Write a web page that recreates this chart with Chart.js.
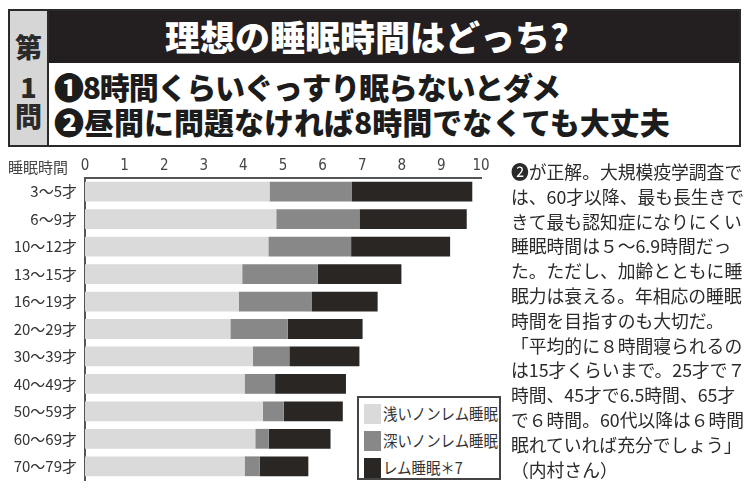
<!DOCTYPE html>
<html>
<head>
<meta charset="utf-8">
<script src="https://cdn.jsdelivr.net/npm/chart.js@4.4.1/dist/chart.umd.min.js"></script>
<style>
  html, body { margin: 0; padding: 0; background: #fff; }
  body { width: 750px; height: 500px; position: relative; overflow: hidden; font-family: "Noto Sans CJK JP", sans-serif; color: #222; }
  #chart-wrap { position: absolute; left: 0; top: 0; width: 750px; height: 500px; }
  #frame { position: absolute; left: 8px; top: 9px; width: 729px; height: 134px; border: 2px solid #2a2a2a; background: #fff; }
  #q-col { position: absolute; left: 0; top: 0; width: 37px; height: 134px; background: #d6d6d6; border-right: 2px solid #2a2a2a; }
  #q-col div { position: absolute; left: 0; width: 37px; text-align: center; font-weight: 900; font-size: 27px; color: #2a2a2a; line-height: 1; }
  #title-bar { position: absolute; left: 39px; top: 0; width: 690px; height: 52px; background: #231f20; }
  #title { position: absolute; left: 116px; top: 6px; font-size: 35px; font-weight: 900; color: #fff; line-height: 1.1; white-space: nowrap; }
  .choice { position: absolute; left: 44px; font-size: 30px; font-weight: 900; color: #1c1c1c; line-height: 1; white-space: nowrap; }
  #axis-name { position: absolute; left: 8px; top: 158px; font-size: 15px; color: #444; line-height: 1.2; }
  #legend { position: absolute; left: 357px; top: 396px; width: 140px; height: 80px; border: 2px solid #444; background: #fff; }
  .lg-item { position: absolute; left: 5px; height: 20px; }
  .lg-box { position: absolute; left: 0; top: 0; width: 17px; height: 20px; }
  .lg-text { position: absolute; left: 19px; top: -2px; font-size: 16px; color: #333; white-space: nowrap; line-height: 22px; transform: scaleX(0.9); transform-origin: left center; }
  #note { position: absolute; left: 511px; top: 159px; width: 240px; font-size: 17.8px; line-height: 24.8px; color: #2a2a2a; white-space: nowrap; }
</style>
</head>
<body>
<div id="chart-wrap"><canvas id="sleepChart"></canvas></div>

<div id="frame">
  <div id="q-col">
    <div style="top:22px">第</div>
    <div style="top:62px">1</div>
    <div style="top:91px">問</div>
  </div>
  <div id="title-bar"><div id="title">理想の睡眠時間はどっち?</div></div>
  <div class="choice" style="top:60px; letter-spacing:-1.2px">❶8時間くらいぐっすり眠らないとダメ</div>
  <div class="choice" style="top:95px">❷昼間に問題なければ8時間でなくても大丈夫</div>
</div>

<div id="axis-name">睡眠時間</div>
<div id="legend"></div>

<div id="note">
❷が正解。大規模疫学調査で<br>
は、60才以降、最も長生きで<br>
きて最も認知症になりにくい<br>
睡眠時間は５～6.9時間だっ<br>
た。ただし、加齢とともに睡<br>
眠力は衰える。年相応の睡眠<br>
時間を目指すのも大切だ。<br>
「平均的に８時間寝られるの<br>
は15才くらいまで。25才で７<br>
時間、45才で6.5時間、65才<br>
で６時間。60代以降は６時間<br>
眠れていれば充分でしょう」<br>
（内村さん）
</div>

<script>
'use strict';

// age groups (rows, top to bottom)
const ages = ['3～5才', '6～9才', '10～12才', '13～15才', '16～19才', '20～29才',
              '30～39才', '40～49才', '50～59才', '60～69才', '70～79才'];

// hours per night
const lightSleep = [4.66, 4.83, 4.63, 3.97, 3.88, 3.67, 4.24, 4.03, 4.49, 4.30, 4.03];
const deepSleep  = [2.07, 2.10, 2.09, 1.91, 1.84, 1.45, 0.92, 0.77, 0.53, 0.34, 0.38];
const remSleep   = [3.05, 2.71, 2.50, 2.11, 1.67, 1.89, 1.77, 1.79, 1.49, 1.56, 1.23];

const seriesNames = ['浅いノンレム睡眠', '深いノンレム睡眠', 'レム睡眠＊7'];
const hourTicks = [0, 1, 2, 3, 4, 5, 6, 7, 8, 9, 10];

const colors = ['#dadada', '#888888', '#2a2624'];
const axisColor = '#555';

function makeSet(i, values) {
    return {
        label: seriesNames[i],
        data: values,
        backgroundColor: colors[i],
        borderWidth: 0,
        barPercentage: 0.72,
        categoryPercentage: 1.0
    };
}

const ctx = document.getElementById('sleepChart').getContext('2d');

const chart = new Chart(ctx, {
    type: 'bar',
    data: {
        labels: ages,
        datasets: [
            makeSet(0, lightSleep),
            makeSet(1, deepSleep),
            makeSet(2, remSleep)
        ]
    },
    options: {
        indexAxis: 'y',
        responsive: true,
        maintainAspectRatio: false,
        animation: false,
        layout: {
            padding: { left: 0, top: 150, right: 269, bottom: 20 }
        },
        plugins: {
            legend: { display: false },
            tooltip: { enabled: false }
        },
        scales: {
            x: {
                stacked: true,
                position: 'top',
                min: 0,
                max: 10,
                afterBuildTicks: scale => {
                    scale.ticks = hourTicks.map(v => ({ value: v }));
                },
                afterFit: scale => { scale.height = 28; },
                grid: { display: false, drawTicks: false },
                border: { display: true, color: axisColor, width: 2 },
                ticks: {
                    padding: 3,
                    color: '#444',
                    font: { family: '"Liberation Sans Narrow", "DejaVu Sans Condensed", sans-serif', size: 15 }
                }
            },
            y: {
                stacked: true,
                afterFit: scale => { scale.width = 85; },
                grid: { display: false, drawTicks: false },
                border: { display: true, color: axisColor, width: 2 },
                ticks: {
                    padding: 8,
                    color: '#333',
                    font: { family: '"Noto Sans CJK JP", sans-serif', size: 15 }
                }
            }
        }
    }
});

// legend box, built from the chart's datasets
const legendEl = document.getElementById('legend');
chart.data.datasets.forEach((ds, i) => {
    const item = document.createElement('div');
    item.className = 'lg-item';
    item.style.top = (6 + i * 27) + 'px';
    item.innerHTML = `<div class="lg-box" style="background:${ds.backgroundColor}"></div><div class="lg-text">${ds.label}</div>`;
    legendEl.appendChild(item);
});
</script>
</body>
</html>
